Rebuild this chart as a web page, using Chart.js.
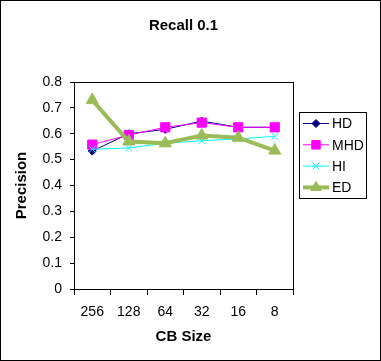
<!DOCTYPE html>
<html>
<head>
<meta charset="utf-8">
<script src="https://cdn.jsdelivr.net/npm/chart.js@4/dist/chart.umd.min.js"></script>
<style>
  html, body { margin: 0; padding: 0; background: #fff; }
  #wrap { width: 381px; height: 361px; position: relative; }
</style>
</head>
<body>
<div id="wrap"><canvas id="chart" width="381" height="361"></canvas></div>
<script>
const cbSizes = ['256', '128', '64', '32', '16', '8'];
const hd  = [0.533, 0.600, 0.617, 0.649, 0.625, 0.625];
const mhd = [0.558, 0.595, 0.625, 0.643, 0.625, 0.625];
const hi  = [0.540, 0.545, 0.563, 0.573, 0.580, 0.590];
const ed  = [0.730, 0.570, 0.563, 0.593, 0.585, 0.535];
const yTicks = [0, 0.1, 0.2, 0.3, 0.4, 0.5, 0.6, 0.7, 0.8];
const chartTitle = 'Recall 0.1';

const FONT = '"Liberation Sans", Arial, sans-serif';

// frame, title, plot box and excel-style legend
const excelBits = {
  id: 'excelBits',
  afterDraw(chart) {
    const ctx = chart.ctx;
    const a = chart.chartArea;
    ctx.save();
    ctx.strokeStyle = '#000';
    ctx.lineWidth = 1;
    ctx.strokeRect(0.5, 0.5, chart.width - 1, chart.height - 1);
    ctx.strokeRect(Math.round(a.left) + 0.5, Math.round(a.top) + 0.5,
                   Math.round(a.right - a.left), Math.round(a.bottom - a.top));

    // title, centred over the plot box
    ctx.fillStyle = '#000';
    ctx.font = 'bold 15px ' + FONT;
    ctx.textAlign = 'center';
    ctx.textBaseline = 'middle';
    ctx.fillText(chartTitle, (a.left + a.right) / 2, 26);

    // legend
    const lx = 299, ly = 112, lw = 67, lh = 86;
    ctx.strokeRect(lx + 0.5, ly + 0.5, lw, lh);
    ctx.font = '14px ' + FONT;
    ctx.textAlign = 'left';
    chart.data.datasets.forEach((ds, i) => {
      const y = ly + 11.5 + i * 21.3;
      ctx.strokeStyle = ds.borderColor;
      ctx.lineWidth = ds.borderWidth;
      ctx.beginPath();
      ctx.moveTo(lx + 4, y);
      ctx.lineTo(lx + 30, y);
      ctx.stroke();
      ctx.fillStyle = ds.pointBackgroundColor;
      ctx.strokeStyle = ds.pointBorderColor;
      ctx.lineWidth = 1;
      Chart.helpers.drawPoint(ctx, {
        pointStyle: ds.pointStyle,
        radius: ds.legendRadius,
        borderWidth: 1
      }, lx + 17, y);
      ctx.fillStyle = '#000';
      ctx.fillText(ds.label, lx + 33, y + 1);
    });
    ctx.restore();
  }
};

function series(label, data, color, style, radius, width, order, legendRadius) {
  return {
    label: label,
    data: data,
    borderColor: color,
    backgroundColor: color,
    pointBackgroundColor: color,
    pointBorderColor: color,
    pointStyle: style,
    pointRadius: radius,
    pointHoverRadius: radius,
    borderWidth: width,
    pointBorderWidth: 1,
    tension: 0,
    order: order,
    legendRadius: legendRadius
  };
}

new Chart(document.getElementById('chart'), {
  type: 'line',
  data: {
    labels: cbSizes,
    datasets: [
      series('HD', hd, '#000080', 'rectRot', 4, 1, 4, 4),
      series('MHD', mhd, '#FF00FF', 'rect', 6.5, 1, 3, 6),
      series('HI', hi, '#00FFFF', 'crossRot', 5, 1, 2, 5),
      series('ED', ed, '#9BBB59', 'triangle', 7, 4, 1, 6)
    ]
  },
  plugins: [excelBits],
  options: {
    responsive: false,
    animation: false,
    devicePixelRatio: 1,
    layout: { padding: { left: 0, right: 88, top: 82, bottom: 0 } },
    plugins: {
      legend: { display: false },
      tooltip: { enabled: false },
      title: { display: false }
    },
    scales: {
      x: {
        offset: true,
        grid: { offset: true, drawOnChartArea: false, tickLength: 6, color: '#000' },
        border: { display: true, color: '#000' },
        ticks: { color: '#000', padding: 9, font: { family: FONT, size: 14 } },
        title: {
          display: true, text: 'CB Size', color: '#000',
          font: { family: FONT, size: 15, weight: 'bold' }, padding: { top: 4, bottom: 15 }
        },
        afterFit(s) { s.height = 72; }
      },
      y: {
        min: 0,
        max: 0.8,
        afterBuildTicks(s) { s.ticks = yTicks.map(v => ({ value: v })); },
        grid: { drawOnChartArea: false, tickLength: 4, color: '#000' },
        border: { display: true, color: '#000' },
        ticks: {
          color: '#000', padding: 8, font: { family: FONT, size: 14 },
          callback: v => String(v)
        },
        title: {
          display: true, text: 'Precision', color: '#000',
          font: { family: FONT, size: 15, weight: 'bold' }, padding: { top: 13, bottom: 4 }
        },
        afterFit(s) { s.width = 74; }
      }
    }
  }
});
</script>
</body>
</html>
